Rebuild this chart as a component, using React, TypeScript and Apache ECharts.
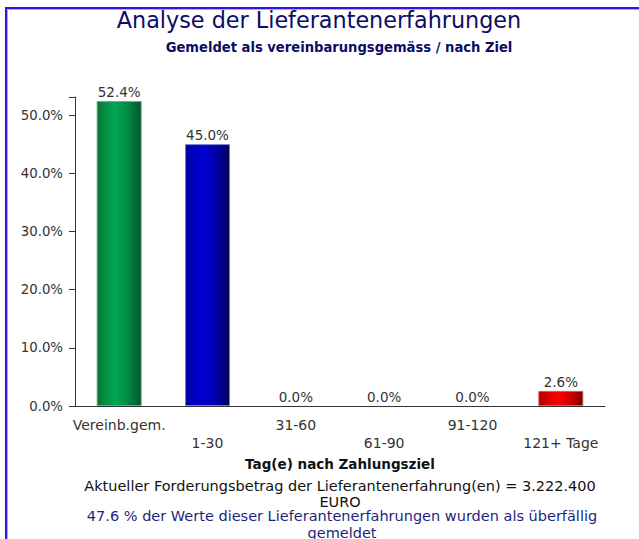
import React, { useEffect, useRef } from "react";
import * as echarts from "echarts";

const categories = ["Vereinb.gem.", "1-30", "31-60", "61-90", "91-120", "121+ Tage"];
const values = [52.4, 45.0, 0.0, 0.0, 0.0, 2.6];
const yTicks = [0, 10, 20, 30, 40, 50];
const titleText = "Analyse der Lieferantenerfahrungen";
const subtitleText = "Gemeldet als vereinbarungsgemäss / nach Ziel";
const xAxisName = "Tag(e) nach Zahlungsziel";
const footLine1 = "Aktueller Forderungsbetrag der Lieferantenerfahrung(en) = 3.222.400";
const footLine2 = "EURO";
const footLine3 = "47.6 % der Werte dieser Lieferantenerfahrungen wurden als überfällig";
const footLine4 = "gemeldet";

const FONT = "'DejaVu Sans', Verdana, sans-serif";
const FONT_COND = "'DejaVu Sans Condensed', 'DejaVu Sans', sans-serif";

const grad = (stops: [number, string][]) =>
  new echarts.graphic.LinearGradient(0, 0, 1, 0, stops.map(([offset, color]) => ({ offset, color })));

const barColors = [
  grad([[0, "#0a6e35"], [0.15, "#078a40"], [0.4, "#00a655"], [0.7, "#028a42"], [1, "#00542a"]]),
  grad([[0, "#00009a"], [0.15, "#0000b8"], [0.4, "#0000d4"], [0.7, "#0000a8"], [1, "#000058"]]),
  grad([[0, "#00009a"], [1, "#000058"]]),
  grad([[0, "#00009a"], [1, "#000058"]]),
  grad([[0, "#00009a"], [1, "#000058"]]),
  grad([[0, "#b00000"], [0.2, "#d80000"], [0.45, "#ff0000"], [0.75, "#c80000"], [1, "#7a0000"]]),
];
const barBorders = ["#5fae80", "#7a7acc", "#7a7acc", "#7a7acc", "#7a7acc", "#d06060"];

export default function App() {
  const ref = useRef<HTMLDivElement>(null);
  useEffect(() => {
    if (!ref.current) return;
    const chart = echarts.init(ref.current, null, { renderer: "svg" });
    chart.setOption({
      animation: false,
      backgroundColor: "#ffffff",
      grid: { left: 75, right: 34, top: 97, bottom: 133, containLabel: false },
      xAxis: {
        type: "category",
        data: categories,
        boundaryGap: true,
        axisLine: { lineStyle: { color: "#333333", width: 1 } },
        axisTick: { alignWithLabel: true, length: 6, lineStyle: { color: "#333333" } },
        axisLabel: {
          interval: 0,
          margin: 10,
          lineHeight: 18,
          fontFamily: FONT,
          fontSize: 14,
          color: "#333333",
          formatter: (v: string, i: number) => (i % 2 === 1 ? "\n" + v : v),
        },
        name: xAxisName,
        nameLocation: "middle",
        nameGap: 48,
        nameTextStyle: { fontFamily: FONT, fontSize: 13.5, fontWeight: "bold", color: "#111111" },
      },
      yAxis: {
        type: "value",
        min: 0,
        max: 53.1,
        interval: 10,
        splitLine: { show: false },
        axisLine: { show: true, lineStyle: { color: "#333333" } },
        axisTick: { show: true, length: 6, lineStyle: { color: "#333333" } },
        axisLabel: {
          margin: 12,
          fontFamily: FONT,
          fontSize: 13.3,
          color: "#333333",
          formatter: (v: number) => (yTicks.includes(v) ? v.toFixed(1) + "%" : ""),
        },
      },
      series: [
        {
          type: "bar",
          barWidth: 45,
          data: values.map((v, i) => ({
            value: v,
            itemStyle: { color: barColors[i], borderColor: barBorders[i], borderWidth: v > 0 ? 1 : 0 },
          })),
          label: {
            show: true,
            position: "top",
            distance: 2,
            fontFamily: FONT,
            fontSize: 13.5,
            color: "#333333",
            formatter: (p: any) => Number(p.value).toFixed(1) + "%",
          },
        },
      ],
      graphic: [
        {
          type: "rect",
          shape: { x: 6, y: 8, width: 700, height: 600 },
          style: { fill: "none", stroke: "#3311ee", lineWidth: 2 },
          z: 10,
        },
        {
          type: "rect",
          shape: { x: 7.5, y: 9.5, width: 700, height: 600 },
          style: { fill: "none", stroke: "#b0a8f8", lineWidth: 1 },
          z: 10,
        },
        {
          type: "text",
          x: 319,
          y: 20,
          style: {
            text: titleText,
            fontFamily: FONT,
            fontSize: 22.3,
            fill: "#0c0c66",
            align: "center",
            verticalAlign: "middle",
          },
        },
        {
          type: "text",
          x: 339,
          y: 46,
          style: {
            text: subtitleText,
            fontFamily: FONT_COND,
            fontWeight: "bold",
            fontSize: 14.6,
            fill: "#0c0c66",
            align: "center",
            verticalAlign: "middle",
          },
        },
        {
          type: "text",
          x: 340,
          y: 486,
          style: {
            text: footLine1,
            fontFamily: FONT,
            fontSize: 14.5,
            fill: "#111111",
            align: "center",
            verticalAlign: "middle",
          },
        },
        {
          type: "text",
          x: 340,
          y: 502,
          style: {
            text: footLine2,
            fontFamily: FONT,
            fontSize: 14.5,
            fill: "#111111",
            align: "center",
            verticalAlign: "middle",
          },
        },
        {
          type: "text",
          x: 342,
          y: 516,
          style: {
            text: footLine3,
            fontFamily: FONT,
            fontSize: 14.5,
            fill: "#1f1f80",
            align: "center",
            verticalAlign: "middle",
          },
        },
        {
          type: "text",
          x: 342,
          y: 533,
          style: {
            text: footLine4,
            fontFamily: FONT,
            fontSize: 14.5,
            fill: "#1f1f80",
            align: "center",
            verticalAlign: "middle",
          },
        },
      ],
    });
    return () => chart.dispose();
  }, []);
  return (
    <div
      ref={ref}
      style={{ position: "fixed", left: 0, top: 0, width: 639, height: 539, background: "#fff" }}
    />
  );
}
